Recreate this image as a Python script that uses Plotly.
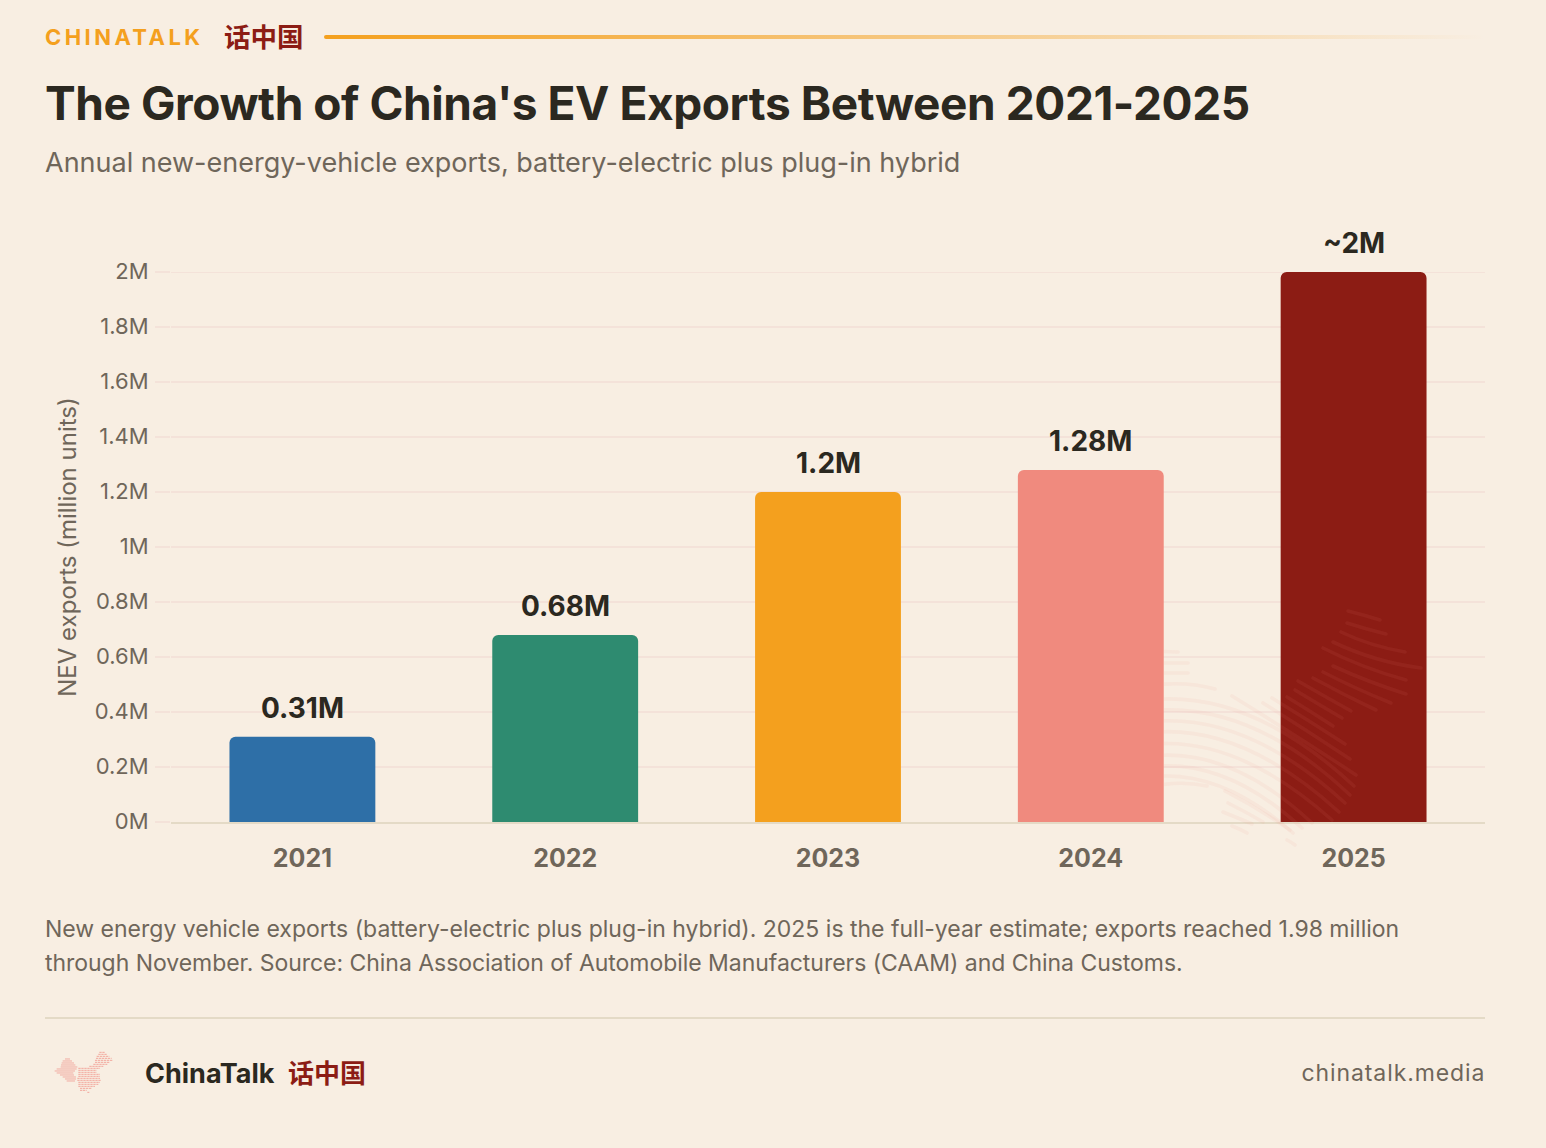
import plotly.graph_objects as go
import base64

# data
years = ["2021", "2022", "2023", "2024", "2025"]
exports = [0.31, 0.68, 1.2, 1.28, 2.0]
bar_labels = ["0.31M", "0.68M", "1.2M", "1.28M", "~2M"]
bar_colors = ["#2E6FA7", "#2E8B70", "#F4A01E", "#F08A7E", "#8C1C14"]
y_ticks = [0, 0.2, 0.4, 0.6, 0.8, 1, 1.2, 1.4, 1.6, 1.8, 2]
y_labels = ["0M", "0.2M", "0.4M", "0.6M", "0.8M", "1M", "1.2M", "1.4M", "1.6M", "1.8M", "2M"]

BG = "#F8EEE2"
INK = "#2B2820"
MUTED = "#6F665A"
RED = "#8C1C14"
ORANGE = "#F4A01E"
GRID = "#F4E2D9"
FONT = "Inter, 'Noto Sans CJK SC', sans-serif"

# plot area in page pixels
W, H = 1546, 1148
L, R, T, B = 171, 1485, 272, 822


def px(x):
    return (x - L) / (R - L)


def py(y):
    return (B - y) / (B - T)


# decoration: big map watermark, page pixels (start, control, end)
map_strokes = [
    (1348, 611, 1364, 615, 1380, 620), (1347, 623, 1366, 629, 1386, 634),
    (1341, 632, 1370, 646, 1405, 652), (1333, 642, 1375, 662, 1421, 668),
    (1323, 648, 1362, 668, 1406, 680), (1333, 666, 1368, 682, 1406, 694),
    (1323, 672, 1356, 689, 1391, 703), (1313, 678, 1344, 695, 1376, 710),
    (1298, 681, 1324, 696, 1351, 711), (1295, 690, 1318, 704, 1342, 718),
    (1287, 697, 1310, 711, 1333, 726), (1272, 698, 1308, 720, 1345, 744),
    (1263, 703, 1306, 730, 1350, 759), (1232, 696, 1294, 734, 1356, 775),
    (1130, 651, 1150, 651, 1178, 652), (1130, 663, 1160, 663, 1188, 663),
    (1130, 673, 1160, 673, 1188, 673), (1130, 690, 1175, 678, 1215, 689),
    (1130, 703, 1240, 680, 1354, 786), (1130, 714, 1240, 691, 1350, 795),
    (1130, 725, 1235, 702, 1345, 803), (1130, 736, 1230, 713, 1339, 812),
    (1130, 748, 1225, 725, 1332, 820), (1130, 760, 1220, 737, 1312, 823),
    (1130, 771, 1215, 748, 1302, 828), (1130, 781, 1210, 759, 1293, 833),
    (1130, 793, 1170, 778, 1207, 786), (1225, 791, 1258, 808, 1290, 830),
    (1228, 803, 1246, 812, 1263, 822), (1223, 812, 1238, 818, 1252, 824),
    (1232, 826, 1240, 829, 1247, 833), (1287, 840, 1291, 842, 1295, 845),
]
# footer logo rows, tripled pixels from (50, 1045): y, x0, x1
logo_west = [
    (42, 45, 60), (48, 38, 66), (54, 35, 72), (60, 33, 76), (66, 32, 82),
    (72, 20, 80), (78, 14, 75), (84, 20, 70), (90, 30, 72), (96, 38, 78),
    (102, 45, 78), (108, 50, 75),
]
logo_east = [
    (22, 148, 165), (28, 145, 172), (34, 140, 178), (40, 138, 185), (46, 135, 188),
    (52, 135, 180), (58, 130, 172), (64, 118, 160), (70, 85, 150), (76, 85, 140),
    (82, 85, 140), (88, 85, 150), (94, 85, 150), (100, 82, 150), (106, 82, 152),
    (112, 85, 150), (118, 85, 145), (124, 85, 135), (130, 90, 125), (136, 90, 110),
    (142, 112, 118),
]

big = "".join(
    f'<path d="M{a} {b}Q{c} {d} {e} {f}"/>' for a, b, c, d, e, f in map_strokes
)
west = "".join(f'<path d="M{a} {y}H{b}"/>' for y, a, b in logo_west)
east = "".join(f'<path d="M{a} {y}H{b}"/>' for y, a, b in logo_east)
svg = f"""<svg xmlns="http://www.w3.org/2000/svg" viewBox="0 0 {W} {H}" width="{W}" height="{H}">
<defs><linearGradient id="g" gradientUnits="userSpaceOnUse" x1="324" y1="0" x2="1485" y2="0">
<stop offset="0" stop-color="{ORANGE}"/><stop offset="1" stop-color="{ORANGE}" stop-opacity="0"/>
</linearGradient>
<clipPath id="c"><rect x="1164" y="600" width="300" height="260"/></clipPath></defs>
<rect x="324" y="35" width="1161" height="4" rx="2" fill="url(#g)"/>
<g clip-path="url(#c)" fill="none" stroke="#F08A7E" stroke-opacity="0.08" stroke-width="3.6" stroke-linecap="round">{big}</g>
<g transform="translate(50 1045) scale(0.3333)" fill="none" stroke="#F08A7E" stroke-opacity="0.65" stroke-width="3">{west}</g>
<g transform="translate(50 1045) scale(0.3333)" fill="none" stroke="#F08A7E" stroke-opacity="0.7" stroke-width="3" stroke-dasharray="7 2">{east}</g>
</svg>"""
svg_uri = "data:image/svg+xml;base64," + base64.b64encode(svg.encode()).decode()

fig = go.Figure()
fig.add_bar(x=years, y=exports, marker_color=bar_colors, marker_line_width=0, width=0.555)


def add_text(x, y, text, size, color, weight=400, anchor="left"):
    fig.add_annotation(
        xref="paper", yref="paper", x=px(x), y=py(y), text=text, showarrow=False,
        xanchor=anchor, yanchor="middle", align=anchor, borderpad=0, borderwidth=0,
        font=dict(family=FONT, size=size, color=color, weight=weight),
    )


# labels over the bars
for i, (value, label) in enumerate(zip(exports, bar_labels)):
    fig.add_annotation(
        x=i, y=value, text=label, showarrow=False, yanchor="bottom", yshift=10,
        font=dict(family=FONT, size=28, color=INK, weight=700),
    )

# header
add_text(45, 37, "CHINATALK", 22, ORANGE, 700)
add_text(224, 37, "话中国", 26.5, RED, 700)
add_text(45, 103, "The Growth of China's EV Exports Between 2021-2025", 46, INK, 700)
add_text(45, 162, "Annual new-energy-vehicle exports, battery-electric plus plug-in hybrid", 27, MUTED)

# footnote
add_text(45, 929, "New energy vehicle exports (battery-electric plus plug-in hybrid). 2025 is the full-year estimate; exports reached 1.98 million", 23, MUTED)
add_text(45, 963, "through November. Source: China Association of Automobile Manufacturers (CAAM) and China Customs.", 23, MUTED)

# footer
add_text(145, 1073, "ChinaTalk", 27, INK, 700)
add_text(288, 1073, "话中国", 26, RED, 700)
add_text(1485, 1073, "chinatalk.media", 23, MUTED, anchor="right")

fig.add_shape(type="line", xref="paper", yref="paper", x0=px(45), x1=px(1485), y0=py(1018), y1=py(1018),
              line=dict(color="#E4DAC6", width=2))
# plotly skips the gridline sitting on the top of the range
fig.add_shape(type="line", xref="paper", yref="y", x0=0, x1=1, y0=2, y1=2, layer="below",
              line=dict(color=GRID, width=2))
fig.add_layout_image(source=svg_uri, xref="paper", yref="paper", x=px(0), y=py(0),
                     sizex=W / (R - L), sizey=H / (B - T), xanchor="left", yanchor="top",
                     sizing="stretch", layer="above")

fig.update_layout(
    width=W, height=H,
    margin=dict(l=L, r=W - R, t=T, b=H - B, pad=0),
    paper_bgcolor=BG, plot_bgcolor=BG,
    showlegend=False, barcornerradius=6,
    font=dict(family=FONT, color=MUTED),
    xaxis=dict(type="category", range=[-0.5, 4.5], showgrid=False, ticks="", showline=True,
               linecolor="#E4DAC6", linewidth=2, ticklabelstandoff=13,
               tickfont=dict(size=25, color=MUTED, weight=700)),
    yaxis=dict(range=[0, 2], tickvals=y_ticks, ticktext=y_labels, gridcolor=GRID, gridwidth=2,
               zeroline=False, ticks="outside", ticklen=15, tickwidth=2, tickcolor=GRID,
               ticklabelstandoff=2, ticklabelshift=-1, tickfont=dict(size=22, color=MUTED),
               title=dict(text="NEV exports (million units)", standoff=11, font=dict(size=24, color=MUTED))),
)

# plotly has no letter spacing option, set it on the rendered text
post = """
document.body.style.margin = '0';
document.querySelectorAll('.annotation-text').forEach(function (t) {
  if (t.textContent === 'CHINATALK') { t.style.letterSpacing = '3.45px'; }
  if (t.textContent === 'chinatalk.media') { t.style.letterSpacing = '0.9px'; }
  if (t.textContent.indexOf('The Growth') === 0) { t.style.letterSpacing = '-0.42px'; }
  if (t.textContent.indexOf('through') === 0) { t.style.letterSpacing = '-0.04px'; }
});
"""
fig.write_html("out.html", post_script=post, config={"displayModeBar": False})
